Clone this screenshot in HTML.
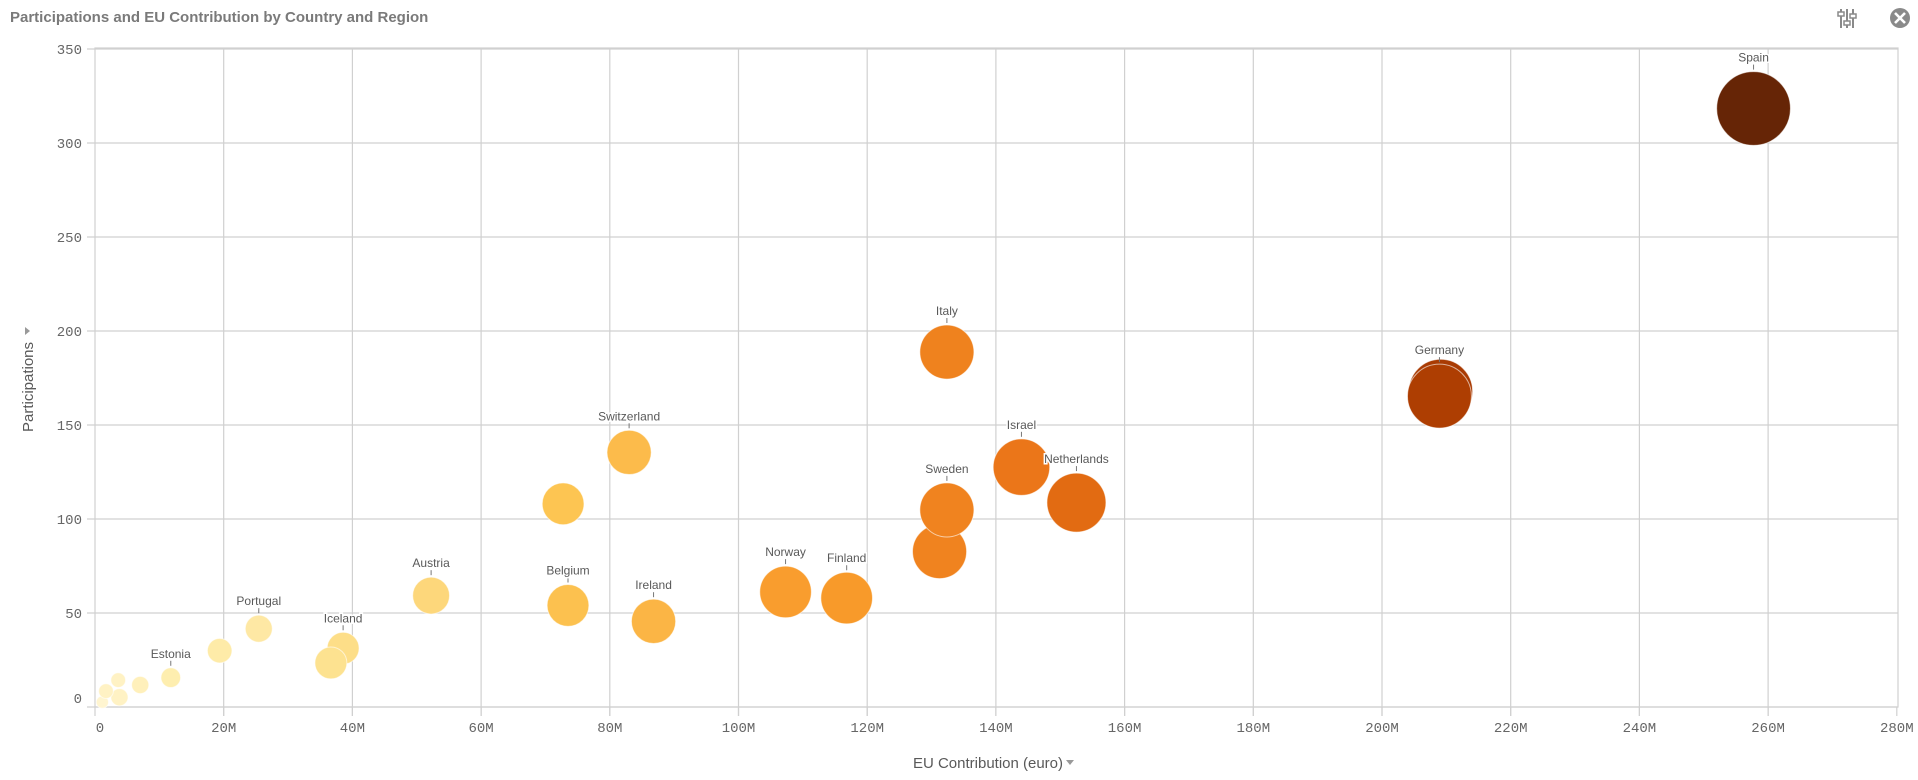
<!DOCTYPE html>
<html><head><meta charset="utf-8"><style>
html,body{margin:0;padding:0;background:#fff;}
body{width:1918px;height:775px;overflow:hidden;font-family:"Liberation Sans",sans-serif;}
</style></head><body>
<svg id="s" width="1918" height="775" xmlns="http://www.w3.org/2000/svg">
<text x="10" y="22" font-family="Liberation Sans, sans-serif" font-weight="bold" font-size="15" fill="#7a7a7a">Participations and EU Contribution by Country and Region</text>
<g fill="#8a8a8a">
<rect x="1840" y="9" width="2" height="19"/><rect x="1846" y="9" width="2" height="19"/><rect x="1852" y="9" width="2" height="19"/>
<rect x="1838" y="12" width="6" height="4" fill="#fff" stroke="#8a8a8a" stroke-width="1.5"/>
<rect x="1844" y="21" width="6" height="4" fill="#fff" stroke="#8a8a8a" stroke-width="1.5"/>
<rect x="1850" y="14" width="6" height="4" fill="#fff" stroke="#8a8a8a" stroke-width="1.5"/>
<circle cx="1900" cy="18" r="10"/>
</g>
<path d="M1895 13 L1905 23 M1905 13 L1895 23" stroke="#fff" stroke-width="2.6"/>
<g id="grid"></g>
<g id="bub"></g>
<text x="988" y="768" text-anchor="middle" font-size="15" fill="#595959" font-family="Liberation Sans, sans-serif">EU Contribution (euro)</text>
<path d="M1066 760 L1074 760 L1070 765 Z" fill="#999"/>
<text transform="translate(33,387) rotate(-90)" text-anchor="middle" font-size="15" fill="#595959" font-family="Liberation Sans, sans-serif">Participations</text>
<path d="M25 327 L25 335 L30 331 Z" fill="#999"/>
</svg>
<script>
const NS="http://www.w3.org/2000/svg";
function el(p,t,a,txt){const e=document.createElementNS(NS,t);for(const k in a)e.setAttribute(k,a[k]);if(txt!==undefined)e.textContent=txt;p.appendChild(e);return e;}
const g=document.getElementById('grid'),b=document.getElementById('bub');
const X0=95,XS=128.7/20,Y0=707,YS=94/50;
const X=v=>X0+v*XS, Y=v=>Y0-v*YS;
el(g,'rect',{x:95,y:48,width:1803,height:659,fill:'none',stroke:'#d0d0d0','stroke-width':1.2});
for(let i=0;i<=14;i++){const x=X(i*20);
 if(i>0&&i<14)el(g,'line',{x1:x,y1:48,x2:x,y2:716,stroke:'#d0d0d0','stroke-width':1.2});
 el(g,'line',{x1:x,y1:707,x2:x,y2:716,stroke:'#d0d0d0','stroke-width':1.2});
 el(g,'text',{x:i==0?100:x,y:732,'text-anchor':'middle','font-size':14,fill:'#666','font-family':'Liberation Mono, monospace'},i==0?'0':(i*20)+'M');}
for(let i=0;i<=7;i++){const y=Y(i*50);
 el(g,'line',{x1:87,y1:y,x2:1898,y2:y,stroke:'#d0d0d0','stroke-width':1.2});
 el(g,'text',{x:82,y:y+(i==0?-4:5),'text-anchor':'end','font-size':14,fill:'#666','font-family':'Liberation Mono, monospace'},String(i*50));}
function dx(d){return (d-78)/105.3*20;} function dy(d){return (578-d)/76.8*50;}
const B=[
[84,574,5,'#fff5d0'],[98,570,7,'#fff2c4'],[87,565,6,'#fff2c4'],[97,556,6,'#fff2c4'],[115,560,7,'#fff0bb'],
[140,554,8,'#feeeaf','Estonia'],[180,532,10,'#feeba8'],[212,514,11,'#fee8a4','Portugal'],
[281,530,13,'#fdde88','Iceland'],[271,542,13,'#fde290'],[353,487,15,'#fdd77b','Austria'],
[461,412,17,'#fdc552'],[465,495,17,'#fcc14f','Belgium'],[515,370,18,'#fcbb4b','Switzerland'],[535,508,18,'#fbb545','Ireland'],
[643,484,21,'#f99d2e','Norway'],[693,489,21,'#f89a2a','Finland'],[769,451,22,'#f0831f'],[775,417,22,'#f0831f','Sweden'],
[775,288,22,'#ef821e','Italy'],[836,382,23,'#eb7619','Israel'],[881,411,24,'#e26b12','Netherlands'],
[1179,320,26,'#a93b03'],[1178,324,26,'#ae3e02','Germany'],[1435,89,30,'#662506','Spain']];
for(const q of B){const cx=X(dx(q[0])),cy=Y(dy(q[1])),r=q[2]*1.23;
 el(b,'circle',{cx,cy,r,fill:q[3],stroke:'rgba(255,255,255,0.6)','stroke-width':1});
 if(q[4]){el(b,'line',{x1:cx,y1:cy-r-2,x2:cx,y2:cy-r-7,stroke:'#777','stroke-width':1});
  el(b,'text',{x:cx,y:cy-r-10,'text-anchor':'middle','font-size':12,fill:'#595959','font-family':'Liberation Sans, sans-serif',stroke:'#fff','stroke-width':3,'paint-order':'stroke'},q[4]);}}
</script>
</body></html>
